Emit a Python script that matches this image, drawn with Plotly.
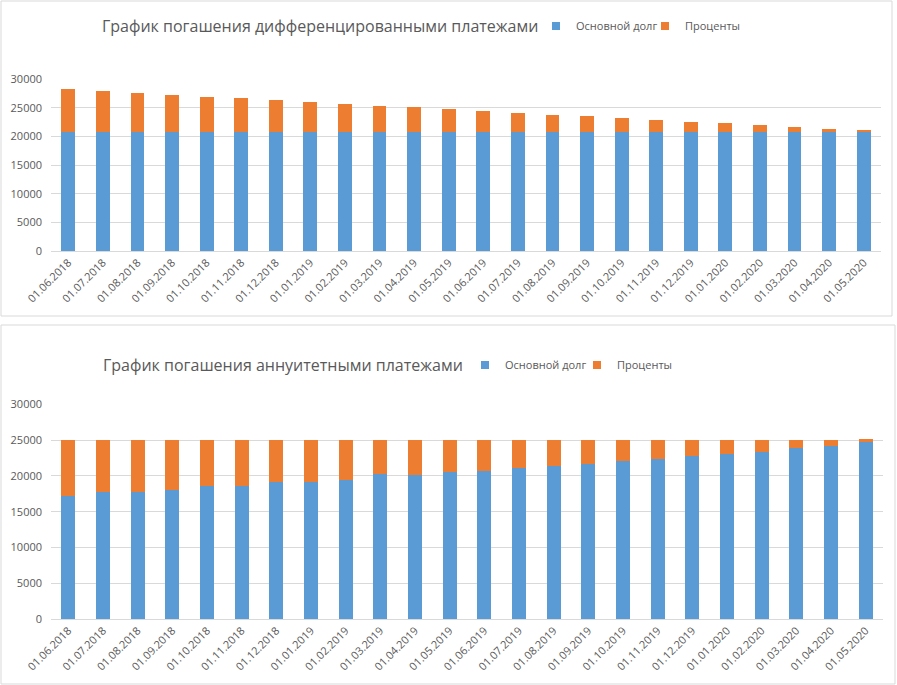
import plotly.graph_objects as go

dates = ["01.06.2018", "01.07.2018", "01.08.2018", "01.09.2018", "01.10.2018", "01.11.2018",
         "01.12.2018", "01.01.2019", "01.02.2019", "01.03.2019", "01.04.2019", "01.05.2019",
         "01.06.2019", "01.07.2019", "01.08.2019", "01.09.2019", "01.10.2019", "01.11.2019",
         "01.12.2019", "01.01.2020", "01.02.2020", "01.03.2020", "01.04.2020", "01.05.2020"]

diff_principal = [20833, 20833, 20833, 20833, 20833, 20833, 20833, 20833, 20833, 20833, 20833, 20833,
                  20833, 20833, 20833, 20833, 20833, 20833, 20833, 20833, 20833, 20833, 20833, 20833]
diff_interest = [7420, 7070, 6730, 6380, 6030, 5850, 5500, 5160, 4810, 4460, 4280, 3930,
                 3590, 3240, 2890, 2710, 2370, 2020, 1670, 1490, 1140, 800, 450, 150]

ann_principal = [17230, 17790, 17790, 18070, 18630, 18630, 19190, 19190, 19470, 20310, 20120, 20590,
                 20680, 21150, 21430, 21700, 22080, 22360, 22820, 23100, 23380, 23940, 24220, 24780]
ann_interest = [7730, 7170, 7170, 6890, 6330, 6330, 5770, 5770, 5490, 4650, 4840, 4370,
                4280, 3810, 3530, 3260, 2880, 2600, 2140, 1860, 1580, 1020, 740, 420]

title_top = "График погашения дифференцированными платежами"
title_bottom = "График погашения аннуитетными платежами"
name_principal = "Основной долг"
name_interest = "Проценты"

BLUE = "#5B9BD5"
ORANGE = "#ED7D31"
GRID = "#D9D9D9"
TXT = "#595959"
FONT = "Open Sans"

W, H = 897, 685


def X(px):
    return px / W


def Y(py):
    return 1 - py / H


fig = go.Figure()

# top chart bars
fig.add_trace(go.Bar(x=dates, y=diff_principal, marker_color=BLUE, name=name_principal,
                     showlegend=False, xaxis="x", yaxis="y"))
fig.add_trace(go.Bar(x=dates, y=diff_interest, marker_color=ORANGE, name=name_interest,
                     showlegend=False, xaxis="x", yaxis="y"))
# bottom chart bars
fig.add_trace(go.Bar(x=dates, y=ann_principal, marker_color=BLUE, name=name_principal,
                     showlegend=False, xaxis="x2", yaxis="y2"))
fig.add_trace(go.Bar(x=dates, y=ann_interest, marker_color=ORANGE, name=name_interest,
                     showlegend=False, xaxis="x2", yaxis="y2"))

# legend entries (small square symbols like the original)
for lg, xa, ya in (("legend", "x", "y"), ("legend2", "x2", "y2")):
    fig.add_trace(go.Scatter(x=[None], y=[None], mode="markers", name=name_principal,
                             marker=dict(symbol="square", size=8, color=BLUE),
                             legend=lg, xaxis=xa, yaxis=ya, hoverinfo="skip"))
    fig.add_trace(go.Scatter(x=[None], y=[None], mode="markers", name=name_interest,
                             marker=dict(symbol="square", size=8, color=ORANGE),
                             legend=lg, xaxis=xa, yaxis=ya, hoverinfo="skip"))

xcommon = dict(type="category", tickangle=-45, showgrid=False, showline=True, linecolor=GRID,
               linewidth=1, ticks="", tickfont=dict(family=FONT, size=11, color=TXT),
               fixedrange=True, automargin=False)
ycommon = dict(range=[0, 30000], dtick=5000, tickformat="d", showgrid=True, gridcolor=GRID,
               gridwidth=1, zeroline=False, showline=False, ticks="",
               tickfont=dict(family=FONT, size=11, color=TXT), ticklabelstandoff=8,
               fixedrange=True, automargin=False)

fig.update_layout(
    template="none",
    width=W, height=H,
    margin=dict(l=0, r=0, t=0, b=0, autoexpand=False),
    paper_bgcolor="white", plot_bgcolor="white",
    barmode="stack", bargap=0.6,
    font=dict(family=FONT, color=TXT),
    xaxis=dict(domain=[X(51), X(881)], anchor="y", **xcommon),
    yaxis=dict(domain=[Y(251), Y(79)], anchor="x", **ycommon),
    xaxis2=dict(domain=[X(51), X(883)], anchor="y2", **xcommon),
    yaxis2=dict(domain=[Y(619), Y(404.3)], anchor="x2", **ycommon),
    legend=dict(orientation="h", x=X(536), xanchor="left", y=Y(26), yanchor="middle",
                font=dict(family=FONT, size=11, color=TXT), bgcolor="rgba(0,0,0,0)",
                entrywidth=64, traceorder="normal"),
    legend2=dict(orientation="h", x=X(465), xanchor="left", y=Y(365), yanchor="middle",
                 font=dict(family=FONT, size=11, color=TXT), bgcolor="rgba(0,0,0,0)",
                 entrywidth=67, traceorder="normal"),
    shapes=[
        dict(type="rect", xref="paper", yref="paper", x0=X(1), x1=X(892), y0=Y(316), y1=Y(1),
             line=dict(color=GRID, width=1), layer="below"),
        dict(type="rect", xref="paper", yref="paper", x0=X(1), x1=X(895), y0=Y(684), y1=Y(325),
             line=dict(color=GRID, width=1), layer="below"),
    ],
    annotations=[
        dict(text=title_top, xref="paper", yref="paper", x=X(319.5), y=Y(26), xanchor="center",
             yanchor="middle", showarrow=False, font=dict(family=FONT, size=16, color=TXT)),
        dict(text=title_bottom, xref="paper", yref="paper", x=X(282.5), y=Y(365), xanchor="center",
             yanchor="middle", showarrow=False, font=dict(family=FONT, size=16, color=TXT)),
    ],
)

fig.write_html("out.html", config={"displayModeBar": False},
               post_script="document.body.style.margin='0px';document.body.style.overflow='hidden';")
